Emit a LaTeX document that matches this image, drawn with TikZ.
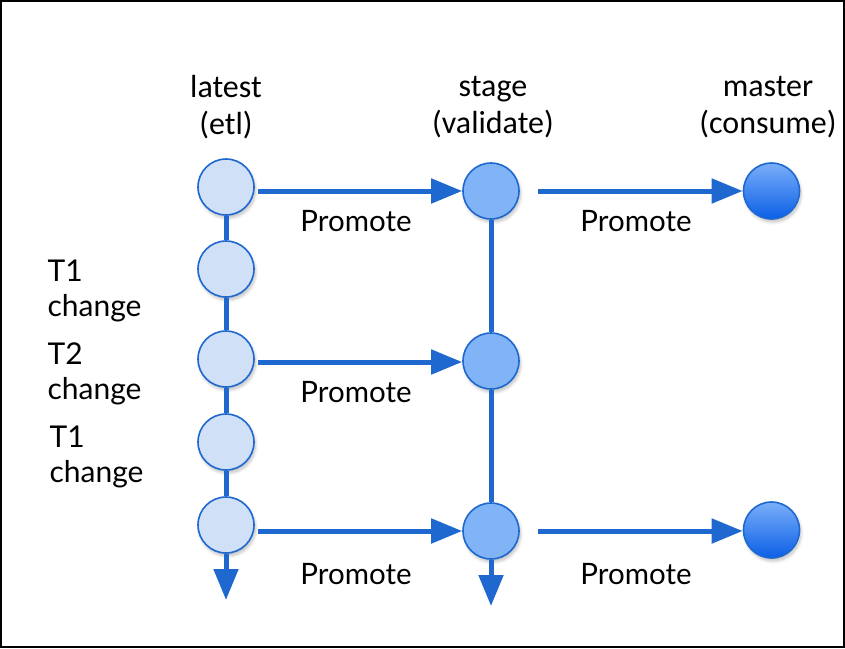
\documentclass[tikz,border=0pt]{standalone}
\usepackage{fontspec}
\setmainfont{Lato}
\newfontfamily\hdrfont{Carlito}
\usetikzlibrary{arrows.meta,shadows.blur}
\definecolor{edgeblue}{HTML}{1E68CF}
\definecolor{lightfill}{HTML}{CFE0F7}
\definecolor{midfill}{HTML}{80B4F6}
\definecolor{darktop}{HTML}{7AAEF9}
\definecolor{darkbot}{HTML}{0B5FE6}
\tikzset{
  commit/.style={circle, draw=edgeblue, line width=1.6pt, minimum size=56pt, inner sep=0pt,
     blur shadow={shadow xshift=1.5pt, shadow yshift=-3pt, shadow blur steps=6, shadow opacity=25, shadow blur radius=3pt}},
  latestc/.style={commit, fill=lightfill},
  stagec/.style={commit, fill=midfill},
  masterc/.style={commit, top color=darktop, bottom color=darkbot},
  flow/.style={draw=edgeblue, line width=5pt, -{Triangle[length=31pt,width=24pt]}},
  link/.style={draw=edgeblue, line width=5pt},
  hdr/.style={font=\hdrfont\fontsize{32}{37}\selectfont, align=center},
  lbl/.style={font=\fontsize{29.5}{35}\selectfont},
  side/.style={font=\fontsize{30}{35}\selectfont, align=left, anchor=west}
}
\begin{document}
\begin{tikzpicture}[x=1pt,y=-1pt]
\useasboundingbox (0,0) rectangle (845,648);
\draw[line width=2pt] (1,1) rectangle (844,647);
% headers
\node[hdr] (hl) at (226,107) {latest\\(etl)};
\node[hdr] (hs) at (493,107) {stage\\(validate)};
\node[hdr] (hm) at (768,107) {master\\(consume)};
% latest column
\node[latestc] (l1) at (226,187) {};
\node[latestc] (l2) at (226,269) {};
\node[latestc] (l3) at (226,359) {};
\node[latestc] (l4) at (226,442) {};
\node[latestc] (l5) at (226,525) {};
% stage column
\node[stagec] (s1) at (491,191) {};
\node[stagec] (s2) at (491,361) {};
\node[stagec] (s3) at (491,531) {};
% master
\node[masterc] (m1) at (771.5,191) {};
\node[masterc] (m2) at (771.5,530) {};
% vertical links
\draw[link] (l1) -- (l2);
\draw[link] (l2) -- (l3);
\draw[link] (l3) -- (l4);
\draw[link] (l4) -- (l5);
\draw[link] (s1) -- (s2);
\draw[link] (s2) -- (s3);
\coordinate (ld) at (226,600);
\coordinate (sd) at (491,606);
\draw[flow] (l5) -- (ld);
\draw[flow] (s3) -- (sd);
% horizontal promotes
\coordinate (a1) at (258,191);
\coordinate (a2) at (538,191);
\coordinate (a3) at (258,362);
\coordinate (a4) at (258,531);
\coordinate (a5) at (538,531);
\draw[flow] (a1) -- (a1 -| s1.west);
\draw[flow] (a2) -- (a2 -| m1.west);
\draw[flow] (a3) -- (a3 -| s2.west);
\draw[flow] (a4) -- (a4 -| s3.west);
\draw[flow] (a5) -- (a5 -| m2.west);
% labels
\node[lbl] (p1) at (356,221) {Promote};
\node[lbl] (p2) at (636,221) {Promote};
\node[lbl] (p3) at (356,392) {Promote};
\node[lbl] (p4) at (356,574) {Promote};
\node[lbl] (p5) at (636,574) {Promote};
\node[side] (t1) at (44,291) {T1\\change};
\node[side] (t2) at (44,374) {T2\\change};
\node[side] (t3) at (46,457) {T1\\change};
\end{tikzpicture}
\end{document}
